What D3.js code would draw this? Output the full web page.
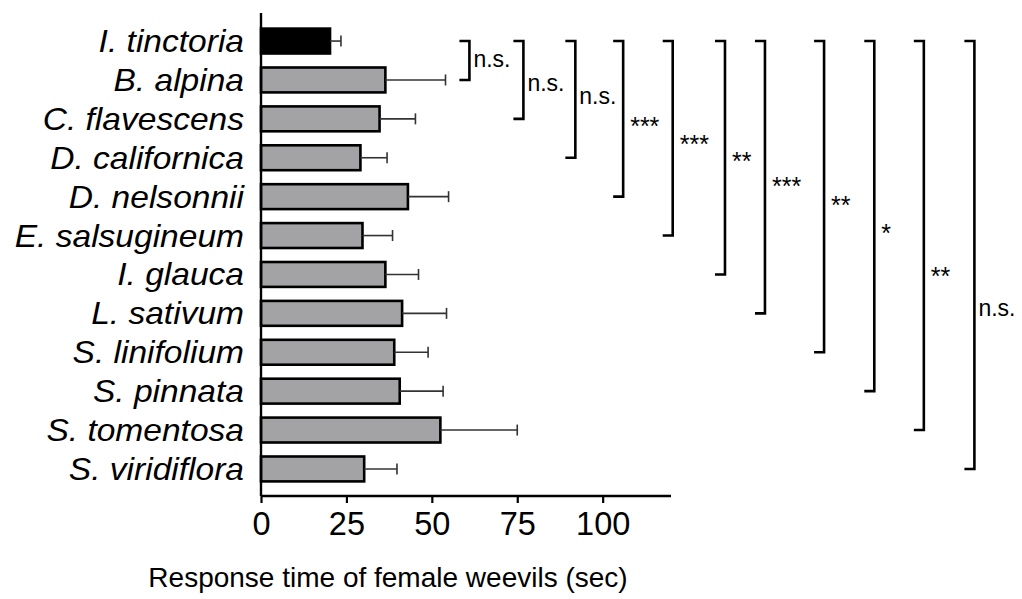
<!DOCTYPE html>
<html>
  <head>
    <meta charset="utf-8">
    <title>Response time of female weevils</title>
    <script src="https://d3js.org/d3.v7.min.js"></script>
    <style>
      body { margin: 0; background: #fff; }
      svg { display: block; font-family: Arial, "Liberation Sans", sans-serif; }
      .species { font-style: italic; font-size: 30.5px; }
      .tick text { font-size: 32.5px; }
      .sig { font-size: 23px; }
      .sig.star { font-size: 25px; }
    </style>
  </head>
  <body>
    <svg id="chart" width="1022" height="599"></svg>
    <script>
      // data
      var species = ["I. tinctoria", "B. alpina", "C. flavescens", "D. californica", "D. nelsonnii",
        "E. salsugineum", "I. glauca", "L. sativum", "S. linifolium", "S. pinnata", "S. tomentosa", "S. viridiflora"];
      var means = [20.2, 36.4, 34.7, 29.1, 43.0, 29.7, 36.4, 41.3, 39.0, 40.6, 52.5, 30.2];
      var upper = [23.4, 54.0, 45.2, 36.9, 54.9, 38.5, 46.1, 54.3, 48.9, 53.3, 75.0, 39.8];
      var xTicks = [0, 25, 50, 75, 100];
      // comparisons of I. tinctoria against each species
      var sigLabels = ["n.s.", "n.s.", "n.s.", "***", "***", "**", "***", "**", "*", "**", "n.s."];
      var bracketAt = [61, 76.8, 92, 106, 120.5, 135.8, 147.5, 164.8, 179.5, 194, 208.8]; // in seconds units
      var labelRow = [0.52, 1.13, 1.46, 2.04, 2.5, 2.94, 3.56, 4.05, 4.79, 5.88, 6.91]; // in row units

      var chart = d3.select("#chart");

      var x = d3.scaleLinear().domain([0, 120]).range([261, 671]);
      var y = d3.scaleBand().domain(species).range([21.6, 488.4]).paddingInner(0.36).paddingOuter(0.18);
      var rowY = function(r) { return y(species[0]) + y.bandwidth() / 2 + r * y.step(); };

      // bars
      chart.append("g")
        .selectAll("rect")
          .data(species)
        .enter().append("rect")
          .attr("x", x(0))
          .attr("y", function(d) { return y(d); })
          .attr("width", function(d, i) { return x(means[i]) - x(0); })
          .attr("height", y.bandwidth())
          .attr("fill", function(d, i) { return i === 0 ? "#000" : "#a3a3a5"; })
          .attr("stroke", "#000")
          .attr("stroke-width", 2.6);

      // error bars (upper side only)
      var err = chart.append("g")
        .attr("stroke", "#333")
        .attr("stroke-width", 1.6)
        .selectAll("g")
          .data(species)
        .enter().append("g");
      err.append("line")
        .attr("x1", function(d, i) { return x(means[i]); })
        .attr("x2", function(d, i) { return x(upper[i]); })
        .attr("y1", function(d) { return y(d) + y.bandwidth() / 2; })
        .attr("y2", function(d) { return y(d) + y.bandwidth() / 2; });
      err.append("line")
        .attr("x1", function(d, i) { return x(upper[i]); })
        .attr("x2", function(d, i) { return x(upper[i]); })
        .attr("y1", function(d) { return y(d) + y.bandwidth() / 2 - 5.5; })
        .attr("y2", function(d) { return y(d) + y.bandwidth() / 2 + 5.5; });

      // axes
      chart.append("line")
        .attr("x1", x(0)).attr("x2", x(0))
        .attr("y1", 13).attr("y2", 496)
        .attr("stroke", "#000").attr("stroke-width", 2.4);

      var xAxis = d3.axisBottom(x).tickValues(xTicks).tickSize(7).tickPadding(9).tickSizeOuter(0);
      var xg = chart.append("g")
        .attr("transform", "translate(0,496)")
        .call(xAxis);
      xg.attr("font-family", null).attr("font-size", null);
      xg.select(".domain").attr("stroke-width", 2.4).attr("d", "M" + x(0) + ",0H" + x(120));
      xg.selectAll(".tick line").attr("stroke-width", 2.2);
      xg.selectAll(".tick text").attr("fill", "#000");

      chart.append("text")
        .attr("x", 388)
        .attr("y", 587)
        .attr("text-anchor", "middle")
        .attr("font-size", 28)
        .text("Response time of female weevils (sec)");

      // species labels, slightly widened like the original typeface
      chart.append("g")
        .selectAll("text")
          .data(species)
        .enter().append("text")
          .attr("class", "species")
          .attr("transform", function(d) { return "translate(244," + (y(d) + y.bandwidth() / 2) + ") scale(1.1,1)"; })
          .attr("dy", "0.36em")
          .attr("text-anchor", "end")
          .text(function(d) { return d; });

      // significance brackets
      var br = chart.append("g")
        .selectAll("g")
          .data(sigLabels)
        .enter().append("g");
      br.append("path")
        .attr("fill", "none")
        .attr("stroke", "#000")
        .attr("stroke-width", 2.6)
        .attr("d", function(d, i) {
          var bx = x(bracketAt[i]);
          var y0 = rowY(0), y1 = rowY(i + 1);
          return "M" + (bx - 10) + "," + y0 + "H" + bx + "V" + y1 + "H" + (bx - 10);
        });
      br.append("text")
        .attr("class", function(d) { return d === "n.s." ? "sig" : "sig star"; })
        .attr("x", function(d, i) { return x(bracketAt[i]) + (d === "n.s." ? 4 : 7); })
        .attr("y", function(d, i) { return rowY(labelRow[i]) + (d === "n.s." ? 6 : 15); })
        .text(function(d) { return d; });
    </script>
  </body>
</html>
